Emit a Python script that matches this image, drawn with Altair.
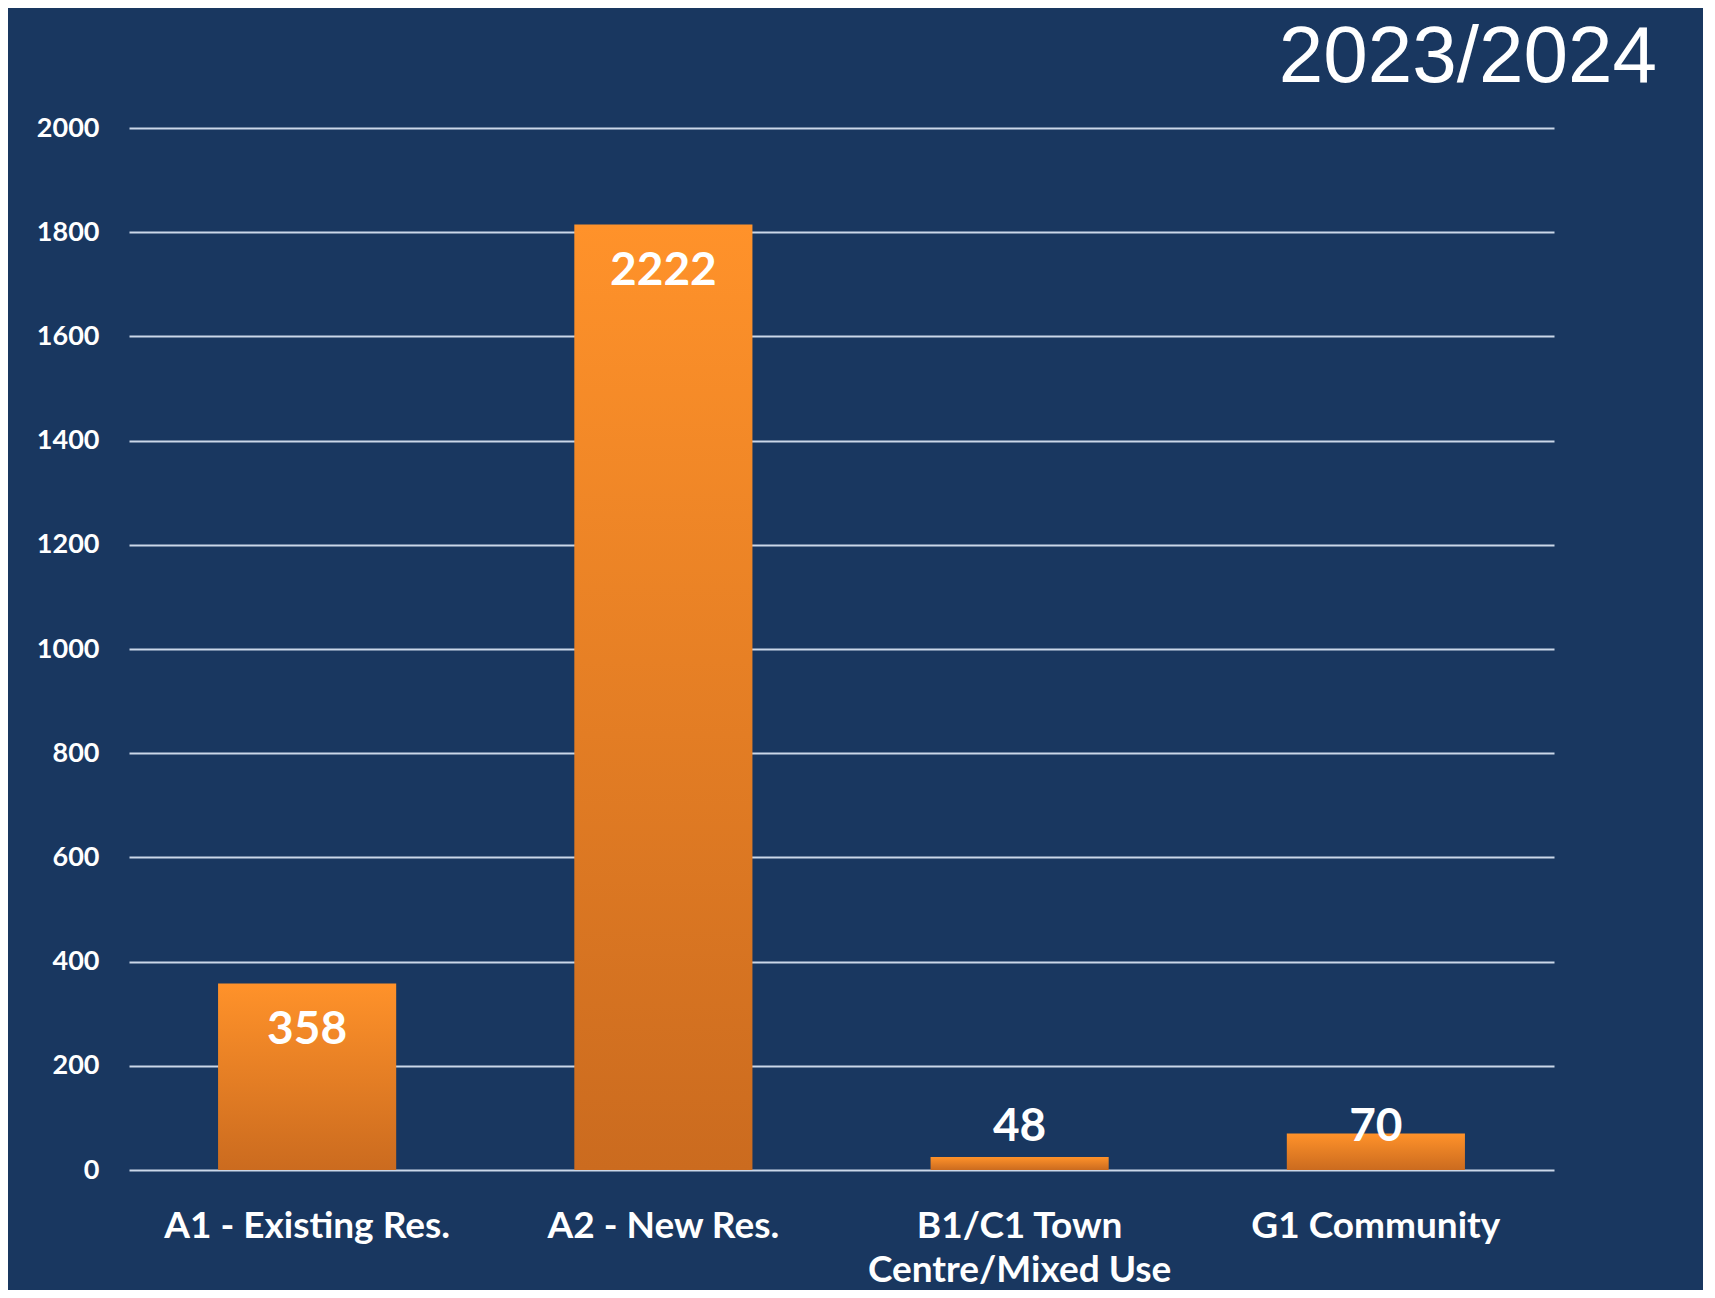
import altair as alt
import pandas as pd

categories = ["A1 - Existing Res.", "A2 - New Res.", "B1/C1 Town\nCentre/Mixed Use", "G1 Community"]
bar_values = [358, 1815, 25, 70]
value_labels = ["358", "2222", "48", "70"]
y_ticks = [0, 200, 400, 600, 800, 1000, 1200, 1400, 1600, 1800, 2000]
title_text = "2023/2024"

BG = "#193760"
FONT = "Lato"

df = pd.DataFrame({"category": categories, "value": bar_values, "label": value_labels})
title_df = pd.DataFrame({"t": [title_text]})

gradient = {
    "gradient": "linear",
    "x1": 0, "y1": 0, "x2": 0, "y2": 1,
    "stops": [
        {"offset": 0, "color": "#FF922A"},
        {"offset": 1, "color": "#CB6B1F"},
    ],
}

x_enc = alt.X(
    "category:N",
    sort=categories,
    scale=alt.Scale(paddingInner=0.5, paddingOuter=0.25),
    axis=alt.Axis(
        title=None,
        labelAngle=0,
        labelExpr="split(datum.label, '\\n')",
        labelFont=FONT,
        labelFontWeight="bold",
        labelFontSize=37,
        labelColor="white",
        labelLineHeight=44,
        labelBaseline="top",
        labelPadding=38,
        ticks=False,
        domain=False,
        labelLimit=600,
    ),
)

y_scale = alt.Scale(domain=[0, 2000], nice=False)

bars = alt.Chart(df).mark_bar(fill=gradient).encode(
    x=x_enc,
    y=alt.Y(
        "value:Q",
        scale=y_scale,
        axis=alt.Axis(
            title=None,
            values=y_ticks,
            format="d",
            labelFont=FONT,
            labelFontWeight="bold",
            labelFontSize=27,
            labelColor="white",
            labelPadding=30,
            ticks=False,
            domain=False,
            grid=True,
            gridColor="#CBD7E8",
            gridWidth=2,
        ),
    ),
)

texts = alt.Chart(df).transform_calculate(
    label_pos="max(datum.value - 90, 82.5)"
).mark_text(
    font=FONT, fontWeight="bold", fontSize=46, color="white", baseline="middle", align="center"
).encode(
    x=alt.X("category:N", sort=categories),
    y=alt.Y("label_pos:Q", scale=y_scale),
    text="label:N",
)

title_mark = alt.Chart(title_df).mark_text(
    font="Liberation Sans", fontSize=80, color="white", align="right", baseline="alphabetic"
).encode(
    x=alt.value(1528),
    y=alt.value(-46),
    text="t:N",
)

chart = alt.layer(bars, texts, title_mark).properties(
    width=1425,
    height=1042,
    background=BG,
    padding={"left": 121, "top": 120, "right": 149, "bottom": 120},
    autosize=alt.AutoSizeParams(type="none"),
).configure_view(stroke=None)

chart.save("out.html", embed_options={"renderer": "svg", "actions": False})
